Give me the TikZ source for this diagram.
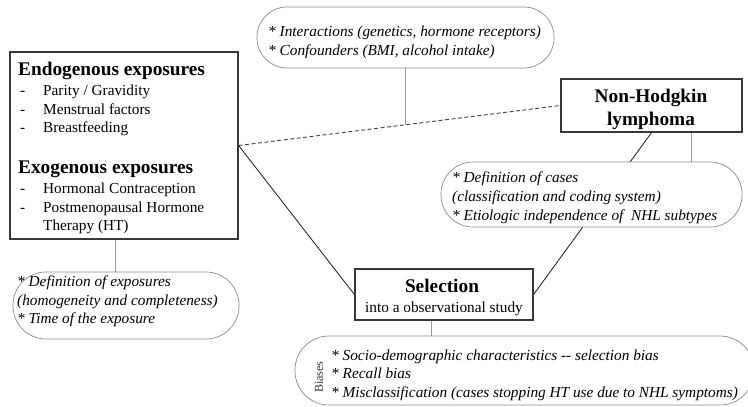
\documentclass[tikz,border=0pt]{standalone}
\usepackage{fontspec}
\setmainfont{Liberation Serif}
\newfontfamily\tnr{Liberation Serif}
\usetikzlibrary{calc,backgrounds}
\begin{document}
\begin{tikzpicture}[x=1pt,y=-1pt,
  sqbox/.style={draw=black!78, line width=1.2pt, fill=white, inner sep=0pt},
  rbox/.style={draw=black!45, line width=0.7pt, fill=white, inner sep=0pt},
  txt/.style={anchor=base west, inner sep=0pt, font=\tnr\fontsize{15.3}{18}\selectfont},
  itx/.style={anchor=base west, inner sep=0pt, font=\tnr\fontsize{15.3}{18}\selectfont\itshape},
  hd/.style={anchor=base west, inner sep=0pt, font=\tnr\fontsize{19.3}{23}\selectfont\bfseries},
  hdc/.style={anchor=base, inner sep=0pt, font=\tnr\fontsize{19.3}{23}\selectfont\bfseries},
  txc/.style={anchor=base, inner sep=0pt, font=\tnr\fontsize{15.3}{18}\selectfont},
  link/.style={draw=black!90, line width=0.8pt},
  glink/.style={draw=black!40, line width=1pt},
  dlink/.style={draw=black!75, line width=0.9pt, dash pattern=on 4pt off 2.5pt}
]
\useasboundingbox (0,0) rectangle (748,407);
% boxes
\node[sqbox, minimum width=228, minimum height=187] (L) at (124,145.5) {};
\node[sqbox, minimum width=181, minimum height=53] (N) at (651.5,105.5) {};
\node[sqbox, minimum width=178, minimum height=51] (S) at (444,294.5) {};
\node[rbox, rounded corners=30, minimum width=297, minimum height=61] (T) at (405.5,37.5) {};
\node[rbox, rounded corners=32, minimum width=301, minimum height=65] (C) at (591.5,194.5) {};
\node[rbox, rounded corners=33, minimum width=226, minimum height=67] (E) at (126,305.5) {};
\node[rbox, rounded corners=34, minimum width=459, minimum height=69] (B) at (524.5,370.5) {};
% connectors
\begin{pgfonlayer}{background}
\draw[dlink] (L.east) -- (N.west);
\draw[link] (L.east) -- (S.west);
\draw[link] (N.south) -- (S.east);
\coordinate (dm) at ($(L.east)!0.52!(N.west)$);
\draw[glink] (T.south) -- (T.south |- dm);
\draw[glink] ([xshift=40]N.south) -- ([xshift=40]N.south |- C.north);
\draw[glink] ([xshift=-9]L.south) -- ([xshift=-9]L.south |- E.north);
\draw[glink] ([xshift=-13]S.south) -- ([xshift=-13]S.south |- B.north);
\end{pgfonlayer}
% left box text
\node[hd] (l1) at (18,75) {Endogenous exposures};
\node[txt] (l2) at (20,95) {\makebox[23pt][l]{-}Parity / Gravidity};
\node[txt] (l3) at (20,114) {\makebox[23pt][l]{-}Menstrual factors};
\node[txt] (l4) at (20,132) {\makebox[23pt][l]{-}Breastfeeding};
\node[hd] (l5) at (18,173) {Exogenous exposures};
\node[txt] (l6) at (20,193) {\makebox[23pt][l]{-}Hormonal Contraception};
\node[txt] (l7) at (20,212) {\makebox[23pt][l]{-}Postmenopausal Hormone};
\node[txt] (l8) at (43,230) {Therapy (HT)};
% NHL
\node[hdc] (n1) at (651,102) {Non-Hodgkin};
\node[hdc] (n2) at (651,125.5) {lymphoma};
% Selection
\node[hdc] (s1) at (442,292) {Selection};
\node[txc] (s2) at (444,312) {into a observational study};
% top box
\node[itx] (t1) at (268,36) {* Interactions (genetics, hormone receptors)};
\node[itx] (t2) at (268,55) {* Confounders (BMI, alcohol intake)};
% cases box
\node[itx] (c1) at (452,182.5) {* Definition of cases};
\node[itx] (c2) at (452,201.5) {(classification and coding system)};
\node[itx] (c3) at (452,220) {* Etiologic independence of \ NHL subtypes};
% exposure box
\node[itx] (e1) at (17,286.5) {* Definition of exposures};
\node[itx] (e2) at (17,305) {(homogeneity and completeness)};
\node[itx] (e3) at (17,323.3) {* Time of the exposure};
% biases box
\node[rotate=90, inner sep=0pt, font=\tnr\fontsize{12}{14}\selectfont, text=black!80] (bl) at (319,377) {Biases};
\node[itx] (b1) at (331,360) {* Socio-demographic characteristics -{}- selection bias};
\node[itx] (b2) at (331,378.5) {* Recall bias};
\node[itx] (b3) at (331,397) {* Misclassification (cases stopping HT use due to NHL symptoms)};
\end{tikzpicture}
\end{document}
